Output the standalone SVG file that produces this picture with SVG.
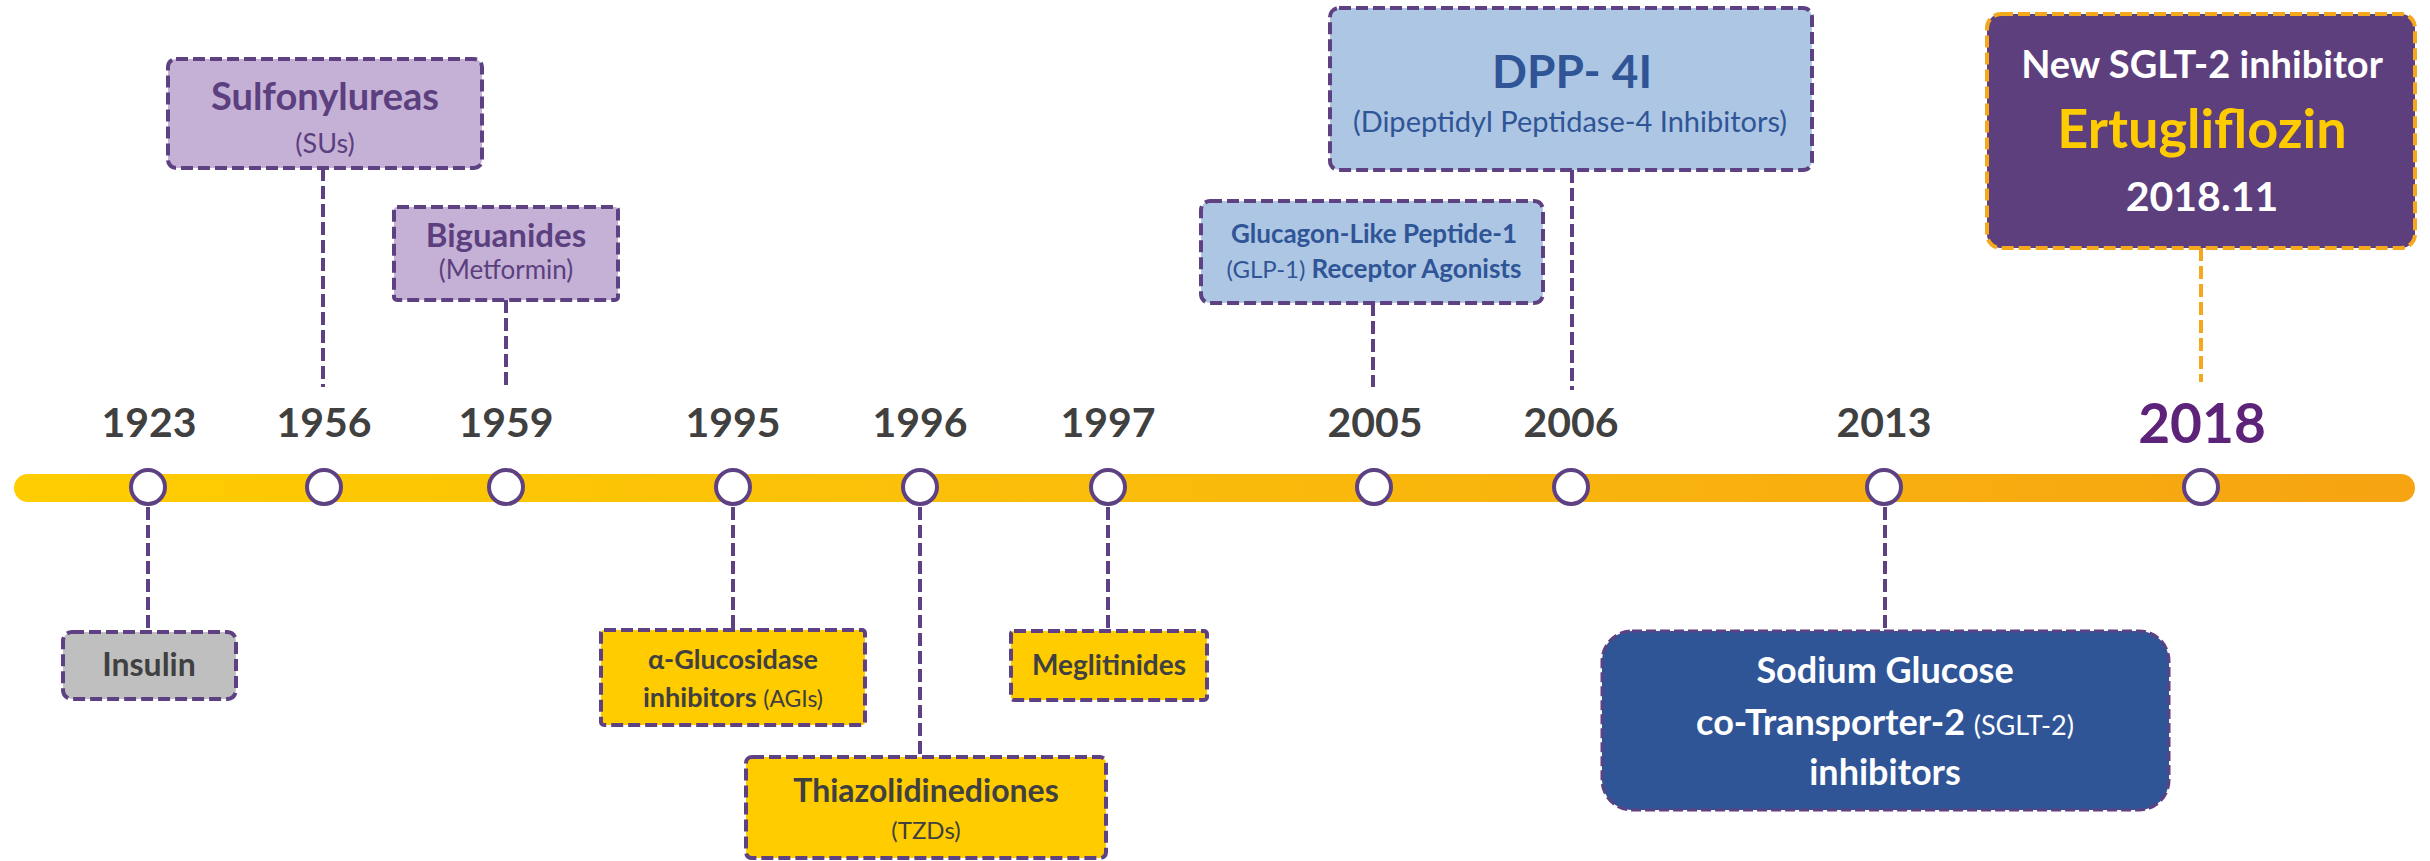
<svg xmlns="http://www.w3.org/2000/svg" width="2430" height="861" viewBox="0 0 2430 861">
<defs>
<linearGradient id="barGrad" x1="14" y1="0" x2="2415" y2="0" gradientUnits="userSpaceOnUse">
<stop offset="0" stop-color="#ffcd00"/>
<stop offset="0.4" stop-color="#fbbf0a"/>
<stop offset="1" stop-color="#f6a412"/>
</linearGradient>
</defs>
<style>
text{font-family:Lato,"Open Sans","Liberation Sans",sans-serif;text-anchor:middle}
.b{font-weight:700}
.r{font-weight:400}
.box{stroke:#5e4183;stroke-width:4;stroke-dasharray:12 5}
.conn{stroke:#5e4183;stroke-width:4;stroke-dasharray:13 5;fill:none}
.dot{fill:#ffffff;stroke:#5e4183;stroke-width:4}
.year{font-weight:700;font-size:41px;fill:#404040}
.purp{fill:#5b3f7f}
.blue{fill:#2f5597}
.dark{fill:#404040}
.wh{fill:#ffffff}
</style>
<rect width="2430" height="861" fill="#ffffff"/>

<g id="connectors">
<line class="conn" x1="148" y1="507" x2="148" y2="632"/>
<line class="conn" x1="323" y1="168" x2="323" y2="387"/>
<line class="conn" x1="506" y1="300" x2="506" y2="387"/>
<line class="conn" x1="733" y1="507" x2="733" y2="630"/>
<line class="conn" x1="920" y1="507" x2="920" y2="757"/>
<line class="conn" x1="1108" y1="507" x2="1108" y2="631"/>
<line class="conn" x1="1373" y1="303" x2="1373" y2="387"/>
<line class="conn" x1="1572" y1="170" x2="1572" y2="390"/>
<line class="conn" x1="1885" y1="507" x2="1885" y2="631"/>
<line class="conn" x1="2201" y1="248" x2="2201" y2="382" style="stroke:#f6a81c"/>
</g>

<g id="timeline">
<rect x="14" y="474" width="2401" height="28" rx="14" fill="url(#barGrad)"/>
<circle class="dot" cx="148" cy="487" r="17"/>
<circle class="dot" cx="324" cy="487" r="17"/>
<circle class="dot" cx="506" cy="487" r="17"/>
<circle class="dot" cx="733" cy="487" r="17"/>
<circle class="dot" cx="920" cy="487" r="17"/>
<circle class="dot" cx="1108" cy="487" r="17"/>
<circle class="dot" cx="1374" cy="487" r="17"/>
<circle class="dot" cx="1571" cy="487" r="17"/>
<circle class="dot" cx="1884" cy="487" r="17"/>
<circle class="dot" cx="2201" cy="487" r="17"/>
</g>

<g id="years">
<text class="year" x="149" y="437">1923</text>
<text class="year" x="324" y="437">1956</text>
<text class="year" x="506" y="437">1959</text>
<text class="year" x="733" y="437">1995</text>
<text class="year" x="920" y="437">1996</text>
<text class="year" x="1108" y="437">1997</text>
<text class="year" x="1375" y="437">2005</text>
<text class="year" x="1571" y="437">2006</text>
<text class="year" x="1884" y="437">2013</text>
<text class="b" x="2202" y="443" font-size="55" fill="#5c2378">2018</text>
</g>

<g id="insulin">
<rect class="box" x="63" y="632" width="173" height="67" rx="9" fill="#bfbfbf"/>
<text class="b dark" x="149" y="676" font-size="32">Insulin</text>
</g>

<g id="sulfonylureas">
<rect class="box" x="168" y="59" width="314" height="109" rx="8" fill="#c5b1d5"/>
<text class="b purp" x="325" y="110" font-size="38">Sulfonylureas</text>
<text class="r purp" x="325" y="153" font-size="27">(SUs)</text>
</g>

<g id="biguanides">
<rect class="box" x="394" y="207" width="224" height="93" rx="3" fill="#c5b1d5"/>
<text class="b purp" x="506" y="247" font-size="33">Biguanides</text>
<text class="r purp" x="506" y="279" font-size="26">(Metformin)</text>
</g>

<g id="agi">
<rect class="box" x="601" y="630" width="264" height="95" rx="3" fill="#ffcc00"/>
<text class="b dark" x="733" y="669" font-size="27">α-Glucosidase</text>
<text class="dark" x="733" y="707"><tspan class="b" font-size="27">inhibitors </tspan><tspan class="r" font-size="23">(AGIs)</tspan></text>
</g>

<g id="tzd">
<rect class="box" x="746" y="757" width="360" height="101" rx="6" fill="#ffcc00"/>
<text class="b dark" x="926" y="802" font-size="32">Thiazolidinediones</text>
<text class="r dark" x="926" y="839" font-size="24">(TZDs)</text>
</g>

<g id="meglitinides">
<rect class="box" x="1011" y="631" width="196" height="69" rx="3" fill="#ffcc00"/>
<text class="b dark" x="1109" y="675" font-size="28">Meglitinides</text>
</g>

<g id="glp1">
<rect class="box" x="1201" y="201" width="342" height="102" rx="9" fill="#adc6e3"/>
<text class="b blue" x="1374" y="243" font-size="26">Glucagon-Like Peptide-1</text>
<text class="blue" x="1374" y="278"><tspan class="r" font-size="24">(GLP-1) </tspan><tspan class="b" font-size="26">Receptor Agonists</tspan></text>
</g>

<g id="dpp4">
<rect class="box" x="1330" y="8" width="482" height="162" rx="9" fill="#adc6e3"/>
<text class="b blue" x="1572" y="88" font-size="46">DPP- 4I</text>
<text class="r blue" x="1570" y="132" font-size="29">(Dipeptidyl Peptidase-4 Inhibitors)</text>
</g>

<g id="sglt2">
<rect x="1602" y="631" width="567" height="179" rx="30" fill="#2f5597" stroke="#5e4183" stroke-width="3" stroke-dasharray="10 4"/>
<text class="b wh" x="1885" y="683" font-size="36">Sodium Glucose</text>
<text class="wh" x="1885" y="735"><tspan class="b" font-size="36">co-Transporter-2 </tspan><tspan class="r" font-size="27">(SGLT-2)</tspan></text>
<text class="b wh" x="1885" y="785" font-size="36">inhibitors</text>
</g>

<g id="ertugliflozin">
<rect x="1987" y="14" width="428" height="234" rx="14" fill="#5d3f7d" stroke="#f6a81c" stroke-width="4" stroke-dasharray="12 5"/>
<text class="b wh" x="2202" y="78" font-size="38">New SGLT-2 inhibitor</text>
<text class="b" x="2202" y="148" font-size="54" fill="#ffcc00">Ertugliflozin</text>
<text class="b wh" x="2202" y="211" font-size="41">2018.11</text>
</g>
</svg>
